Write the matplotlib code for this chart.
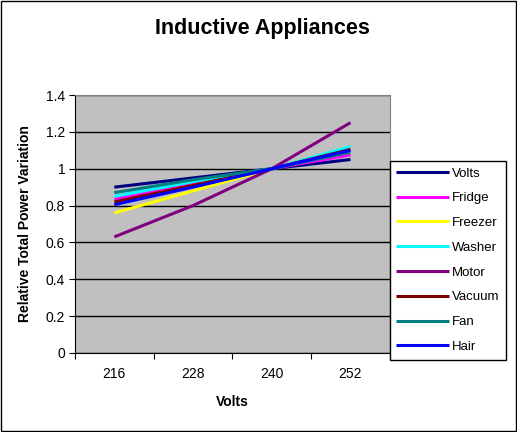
import matplotlib
matplotlib.use("Agg")
import matplotlib.pyplot as plt
from matplotlib.patches import Rectangle

plt.rcParams['font.family'] = ['Liberation Sans', 'DejaVu Sans']

volts = ["216", "228", "240", "252"]
series_names = ["Volts", "Fridge", "Freezer", "Washer", "Motor", "Vacuum", "Fan", "Hair"]
volts_rel = [0.90, 0.95, 1.00, 1.05]
fridge = [0.835, 0.92, 1.00, 1.075]
freezer = [0.76, 0.88, 1.00, 1.10]
washer = [0.85, 0.93, 1.00, 1.12]
motor = [0.63, 0.80, 1.00, 1.25]
vacuum = [0.82, 0.91, 1.00, 1.105]
fan = [0.87, 0.94, 1.00, 1.09]
hair = [0.805, 0.90, 1.00, 1.10]
series = [volts_rel, fridge, freezer, washer, motor, vacuum, fan, hair]
colors = ["#000080", "#FF00FF", "#FFFF00", "#00FFFF", "#800080", "#800000", "#008080", "#0000FF"]

fig = plt.figure(figsize=(5.17, 4.32), dpi=100)
fig.patches.append(Rectangle((0.002, 0.002), 0.996, 0.996, transform=fig.transFigure,
                             fill=False, edgecolor="black", linewidth=1))
ax = fig.add_axes([0.145, 0.183, 0.609, 0.597])
ax.set_facecolor("#C0C0C0")

x = list(range(len(volts)))
lines = []
for name, vals, c in zip(series_names, series, colors):
    ln, = ax.plot(x, vals, color=c, linewidth=2.2, label=name, solid_capstyle="butt")
    lines.append(ln)

ax.set_xlim(-0.5, len(volts) - 0.5)
ax.set_ylim(0, 1.4)
yt = [0, 0.2, 0.4, 0.6, 0.8, 1.0, 1.2, 1.4]
ax.set_yticks(yt)
ax.set_yticklabels(["0", "0.2", "0.4", "0.6", "0.8", "1", "1.2", "1.4"])
ax.yaxis.grid(True, color="black", linewidth=1)
ax.set_axisbelow(True)

ax.set_xticks([i - 0.5 for i in range(len(volts) + 1)])
ax.set_xticklabels([])
ax.set_xticks(x, minor=True)
ax.set_xticklabels(volts, minor=True)
ax.tick_params(axis="x", which="minor", length=0, pad=10, labelsize=10)
ax.tick_params(axis="x", which="major", length=4, direction="out")
ax.tick_params(axis="y", length=4, direction="out", labelsize=10, pad=3)

for side in ["top", "right"]:
    ax.spines[side].set_color("#808080")
for side in ["left", "bottom"]:
    ax.spines[side].set_color("black")

ax.set_xlabel("Volts", fontsize=10, fontweight="bold", labelpad=10)
ax.set_ylabel("Relative Total Power Variation", fontsize=10, fontweight="bold", labelpad=10)
fig.text(0.507, 0.935, "Inductive Appliances", ha="center", va="center",
         fontsize=15.5, fontweight="bold")

leg = fig.legend(lines, series_names, loc="upper left", bbox_to_anchor=(0.754, 0.628),
                 frameon=True, fancybox=False, edgecolor="black", framealpha=1,
                 fontsize=9.5, handlelength=4.0, handletextpad=0.2, labelspacing=0.95,
                 borderpad=0.5, borderaxespad=0)
leg.get_frame().set_linewidth(1)

fig.savefig("out.png", dpi=100)
